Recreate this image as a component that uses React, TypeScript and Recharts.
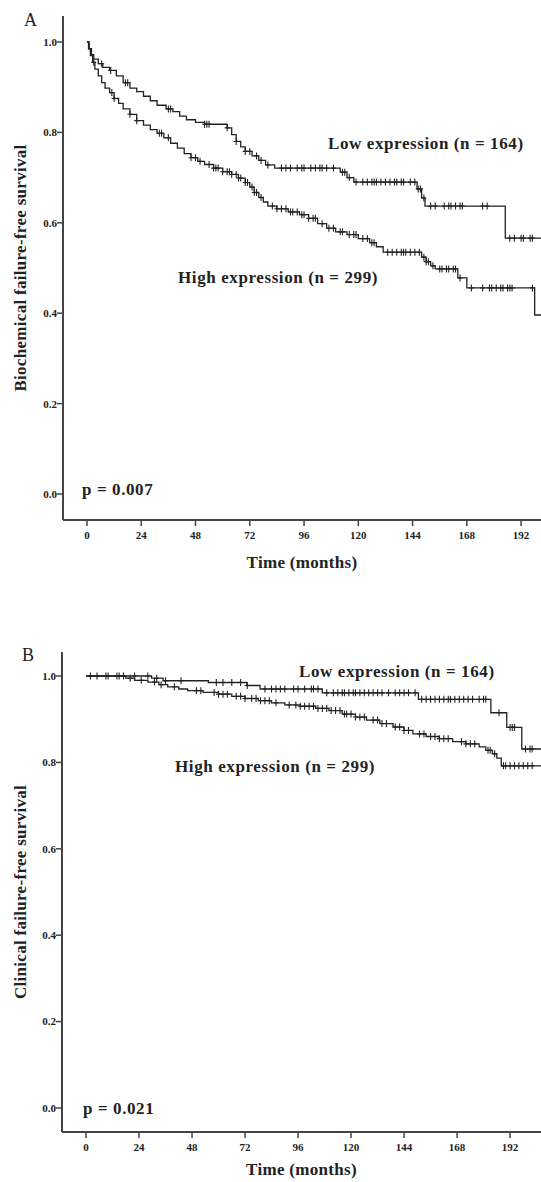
import { ComposedChart, Line, Scatter, XAxis, YAxis } from 'recharts'

const xTicks = [0, 24, 48, 72, 96, 120, 144, 168, 192]
const yTicks = [0, 0.2, 0.4, 0.6, 0.8, 1.0]

// Panel A: biochemical failure-free survival
const lowATime = [0, 1, 2, 3, 5, 7, 10, 13, 16, 19, 22, 25, 28, 31, 35, 38, 41, 44, 48, 52, 62, 64, 66, 68, 70, 73, 76, 79, 83, 112, 115, 118, 146, 148, 149.5, 185, 201]
const lowASurv = [1, 0.985, 0.972, 0.962, 0.952, 0.944, 0.937, 0.925, 0.91, 0.898, 0.89, 0.88, 0.87, 0.86, 0.852, 0.846, 0.836, 0.828, 0.822, 0.818, 0.81, 0.795, 0.78, 0.768, 0.758, 0.748, 0.738, 0.728, 0.721, 0.712, 0.7, 0.69, 0.675, 0.655, 0.637, 0.566, 0.566]
const lowACensor = [6.5, 10.5, 17, 18, 36, 37, 52, 53, 54, 62, 66, 70, 72, 75, 77, 80, 86, 88, 90, 93, 95, 96, 99, 101, 103, 104, 106, 109, 113, 114, 116, 119, 122, 124, 126, 127, 128, 130, 132, 134, 136, 137, 139, 140, 143, 145, 146.5, 147.5, 149, 152, 154, 158, 160, 161, 163, 165, 166, 175, 177, 187, 189, 192, 193, 196, 197]

const highATime = [0, 0.7, 1.5, 2.5, 3.5, 5, 6.5, 8, 10, 12, 14, 16, 19, 22, 25, 28, 31, 34, 37, 40, 43, 46, 49, 52, 56, 60, 64, 67, 70, 72, 74, 76, 78, 80, 84, 89, 94, 98, 102, 106, 110, 115, 120, 125, 128, 131, 148, 150, 152, 154, 164, 168, 198, 201]
const highASurv = [1, 0.985, 0.97, 0.955, 0.94, 0.925, 0.91, 0.898, 0.888, 0.875, 0.864, 0.852, 0.84, 0.826, 0.816, 0.806, 0.798, 0.788, 0.776, 0.765, 0.753, 0.744, 0.736, 0.729, 0.721, 0.713, 0.707, 0.699, 0.689, 0.679, 0.667, 0.656, 0.646, 0.637, 0.631, 0.624, 0.618, 0.61, 0.598, 0.588, 0.58, 0.574, 0.565, 0.556, 0.547, 0.535, 0.524, 0.514, 0.505, 0.498, 0.478, 0.456, 0.396, 0.396]
const highACensor = [3, 11, 12, 19, 22, 32, 33, 36, 46, 48, 50, 54, 56, 57, 58, 60, 62, 63, 64, 66, 67, 68, 70, 71, 73, 74, 75, 77, 82, 84, 86, 88, 90, 91, 93, 95, 96, 98, 100, 101, 104, 107, 109, 112, 113, 116, 118, 119, 122, 124, 126, 127, 133, 135, 137, 139, 140, 141, 143, 145, 147, 149, 150, 151, 153, 156, 157, 159, 160, 162, 163, 165, 170, 175, 178, 179, 181, 183, 184, 186, 187, 188, 197]

// Panel B: clinical failure-free survival
const lowBTime = [0, 29.7, 34.9, 55.4, 72.8, 78.8, 107, 150.5, 183.3, 190.5, 197.3, 206]
const lowBSurv = [1, 0.995, 0.989, 0.985, 0.978, 0.97, 0.961, 0.946, 0.915, 0.881, 0.831, 0.831]
const lowBCensor = [2, 5, 9, 10, 14, 15, 17, 22, 28, 32, 36, 43, 59, 62, 66, 70, 73, 81, 84, 86, 88, 90, 94, 96, 99, 102, 103, 105, 109, 112, 114, 116, 117, 119, 121, 122, 124, 126, 128, 130, 132, 134, 137, 140, 142, 144, 146, 149, 152, 154, 156, 158, 160, 162, 164, 165, 167, 169, 171, 173, 175, 178, 180, 181, 187, 192, 193, 194, 199, 201, 202]

const highBTime = [0, 18, 22, 28, 33, 37, 42, 46, 53, 60, 66, 72, 78, 84, 90, 97, 104, 110, 116, 122, 127, 133, 139, 144, 148, 154, 160, 166, 172, 178, 181, 184, 186, 188, 206]
const highBSurv = [1, 0.995, 0.99, 0.986, 0.98, 0.975, 0.97, 0.966, 0.962, 0.958, 0.953, 0.948, 0.943, 0.938, 0.933, 0.93, 0.925, 0.92, 0.912, 0.905, 0.898, 0.89, 0.882, 0.874, 0.866, 0.86, 0.855, 0.848, 0.843, 0.836, 0.828, 0.82, 0.81, 0.792, 0.792]
const highBCensor = [20, 25, 31, 34, 40, 50, 52, 58, 60, 62, 64, 68, 70, 72, 75, 77, 79, 81, 83, 86, 92, 95, 97, 99, 101, 103, 105, 107, 109, 111, 113, 115, 117, 118, 120, 122, 124, 126, 130, 132, 134, 136, 140, 142, 144, 146, 151, 153, 156, 158, 160, 162, 164, 170, 172, 174, 176, 182, 183, 185, 189, 190, 192, 194, 196, 198, 200, 202]

const FONT = '"Liberation Serif", "Times New Roman", serif'
const INK = '#222'

function steps(time: number[], surv: number[]) {
  return time.map((t, i) => ({ t, s: surv[i] }))
}

// censored cases sit on the curve at the survival value in force at that time
function censored(time: number[], surv: number[], cens: number[]) {
  return cens.map((c) => {
    let s = surv[0]
    for (let i = 0; i < time.length; i++) if (time[i] <= c) s = surv[i]
    return { t: c, s }
  })
}

function Plus(props: any) {
  const { cx, cy } = props
  if (cx == null || cy == null) return null
  return (
    <path
      d={`M${cx - 2.5},${cy}H${cx + 2.5}M${cx},${cy - 3.5}V${cy + 3.5}`}
      stroke={INK}
      strokeWidth={1.1}
      fill="none"
    />
  )
}

interface PanelProps {
  height: number
  margin: { top: number; right: number; bottom: number; left: number }
  xDomain: [number, number]
  yDomain: [number, number]
  xAxisHeight: number
  xLabelOffset: number
  yAxisWidth: number
  yLabel: string
  low: { time: number[]; surv: number[]; cens: number[] }
  high: { time: number[]; surv: number[]; cens: number[] }
}

function KMPanel(p: PanelProps) {
  const tickStyle = { fontSize: 11, fontWeight: 700, fontFamily: FONT, fill: INK }
  const titleStyle = { fontSize: 17, fontWeight: 700, fontFamily: FONT, fill: INK, letterSpacing: 0.3 }
  return (
    <ComposedChart width={541} height={p.height} margin={p.margin}>
      <XAxis
        xAxisId="top"
        orientation="top"
        type="number"
        domain={p.xDomain}
        allowDataOverflow
        height={0}
        tick={false}
        tickLine={false}
        axisLine={{ stroke: '#777', strokeWidth: 1.5 }}
      />
      <XAxis
        dataKey="t"
        type="number"
        domain={p.xDomain}
        allowDataOverflow
        ticks={xTicks}
        height={p.xAxisHeight}
        tickSize={6}
        tickMargin={5}
        axisLine={{ stroke: '#444', strokeWidth: 2 }}
        tickLine={{ stroke: '#444', strokeWidth: 1.5 }}
        tick={tickStyle}
        label={{
          value: 'Time (months)',
          position: 'insideBottom',
          offset: p.xLabelOffset,
          style: titleStyle,
        }}
      />
      <YAxis
        dataKey="s"
        type="number"
        domain={p.yDomain}
        allowDataOverflow
        ticks={yTicks}
        width={p.yAxisWidth}
        tickSize={6}
        tickMargin={0}
        tickFormatter={(v: number) => v.toFixed(1)}
        axisLine={{ stroke: '#444', strokeWidth: 2 }}
        tickLine={{ stroke: '#444', strokeWidth: 1.5 }}
        tick={tickStyle}
        label={{
          value: p.yLabel,
          angle: -90,
          position: 'insideLeft',
          offset: 0,
          style: { ...titleStyle, textAnchor: 'middle' },
        }}
      />
      <Line
        data={steps(p.low.time, p.low.surv)}
        dataKey="s"
        type="stepAfter"
        stroke={INK}
        strokeWidth={1.3}
        dot={false}
        isAnimationActive={false}
      />
      <Line
        data={steps(p.high.time, p.high.surv)}
        dataKey="s"
        type="stepAfter"
        stroke={INK}
        strokeWidth={1.3}
        dot={false}
        isAnimationActive={false}
      />
      <Scatter
        data={censored(p.low.time, p.low.surv, p.low.cens)}
        dataKey="s"
        shape={Plus}
        isAnimationActive={false}
      />
      <Scatter
        data={censored(p.high.time, p.high.surv, p.high.cens)}
        dataKey="s"
        shape={Plus}
        isAnimationActive={false}
      />
    </ComposedChart>
  )
}

const note = (left: number, centerY: number, size = 17, bold = true): React.CSSProperties => ({
  position: 'absolute',
  left,
  top: centerY - 10,
  lineHeight: '20px',
  fontSize: size,
  fontWeight: bold ? 700 : 400,
  whiteSpace: 'nowrap',
  color: INK,
  letterSpacing: bold ? 0.6 : 0,
})

export default function App() {
  return (
    <div
      style={{
        position: 'absolute',
        left: 0,
        top: 0,
        width: 541,
        height: 1182,
        background: '#fff',
        fontFamily: FONT,
        overflow: 'hidden',
      }}
    >
      {/* Panel A */}
      <div style={{ position: 'absolute', left: 0, top: 0 }}>
        <KMPanel
          height={590}
          margin={{ top: 16, right: 0, bottom: 15, left: 20 }}
          xDomain={[-10.6, 200.8]}
          yDomain={[-0.0575, 1.0575]}
          xAxisHeight={55}
          xLabelOffset={7}
          yAxisWidth={43}
          yLabel="Biochemical failure-free survival"
          low={{ time: lowATime, surv: lowASurv, cens: lowACensor }}
          high={{ time: highATime, surv: highASurv, cens: highACensor }}
        />
      </div>
      <div style={note(24, 20, 18, false)}>A</div>
      <div style={note(328, 144)}>Low expression (n = 164)</div>
      <div style={note(178, 278)}>High expression (n = 299)</div>
      <div style={note(82, 490)}>p = 0.007</div>

      {/* Panel B */}
      <div style={{ position: 'absolute', left: 0, top: 600 }}>
        <KMPanel
          height={582}
          margin={{ top: 52, right: 0, bottom: 4, left: 20 }}
          xDomain={[-10.87, 206]}
          yDomain={[-0.0556, 1.0556]}
          xAxisHeight={46}
          xLabelOffset={3}
          yAxisWidth={42}
          yLabel="Clinical failure-free survival"
          low={{ time: lowBTime, surv: lowBSurv, cens: lowBCensor }}
          high={{ time: highBTime, surv: highBSurv, cens: highBCensor }}
        />
      </div>
      <div style={note(22, 655, 18, false)}>B</div>
      <div style={note(299, 672)}>Low expression (n = 164)</div>
      <div style={note(175, 767)}>High expression (n = 299)</div>
      <div style={note(83, 1109)}>p = 0.021</div>
    </div>
  )
}
